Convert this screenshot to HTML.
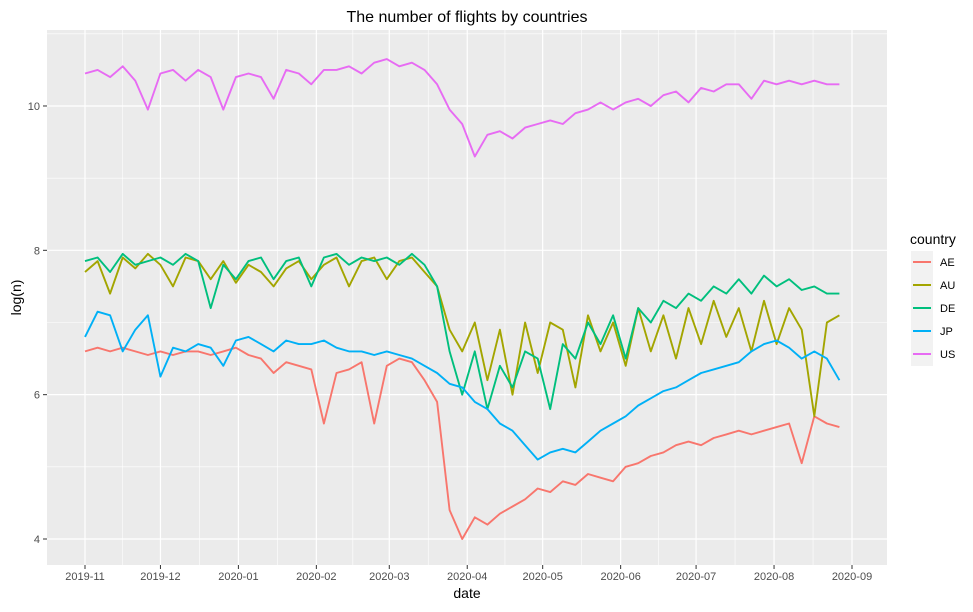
<!DOCTYPE html>
<html><head><meta charset="utf-8"><style>
body{margin:0;background:#fff;font-family:"Liberation Sans",Arial,sans-serif}
svg text{font-family:"Liberation Sans",Arial,sans-serif}
</style></head><body>
<svg id="c" width="973" height="607" xmlns="http://www.w3.org/2000/svg"></svg>
<script>
const countries=["AE","AU","DE","JP","US"];
const colors=["#F8766D","#A3A500","#00BF7D","#00B0F6","#E76BF3"];
const stepDays=5;
const valsAE=[6.6,6.65,6.6,6.65,6.6,6.55,6.6,6.55,6.6,6.6,6.55,6.6,6.65,6.55,6.5,6.3,6.45,6.4,6.35,5.6,6.3,6.35,6.45,5.6,6.4,6.5,6.45,6.2,5.9,4.4,4.0,4.3,4.2,4.35,4.45,4.55,4.7,4.65,4.8,4.75,4.9,4.85,4.8,5.0,5.05,5.15,5.2,5.3,5.35,5.3,5.4,5.45,5.5,5.45,5.5,5.55,5.6,5.05,5.7,5.6,5.55];
const valsAU=[7.7,7.85,7.4,7.9,7.75,7.95,7.8,7.5,7.9,7.85,7.6,7.85,7.55,7.8,7.7,7.5,7.75,7.85,7.6,7.8,7.9,7.5,7.85,7.9,7.6,7.85,7.9,7.7,7.5,6.9,6.6,7.0,6.2,6.9,6.0,7.0,6.3,7.0,6.9,6.1,7.1,6.6,7.0,6.4,7.2,6.6,7.1,6.5,7.2,6.7,7.3,6.8,7.2,6.6,7.3,6.7,7.2,6.9,5.7,7.0,7.1];
const valsDE=[7.85,7.9,7.7,7.95,7.8,7.85,7.9,7.8,7.95,7.85,7.2,7.8,7.6,7.85,7.9,7.6,7.85,7.9,7.5,7.9,7.95,7.8,7.9,7.85,7.9,7.8,7.95,7.8,7.5,6.6,6.0,6.6,5.8,6.4,6.1,6.6,6.5,5.8,6.7,6.5,7.0,6.7,7.1,6.5,7.2,7.0,7.3,7.2,7.4,7.3,7.5,7.4,7.6,7.4,7.65,7.5,7.6,7.45,7.5,7.4,7.4];
const valsJP=[6.8,7.15,7.1,6.6,6.9,7.1,6.25,6.65,6.6,6.7,6.65,6.4,6.75,6.8,6.7,6.6,6.75,6.7,6.7,6.75,6.65,6.6,6.6,6.55,6.6,6.55,6.5,6.4,6.3,6.15,6.1,5.9,5.8,5.6,5.5,5.3,5.1,5.2,5.25,5.2,5.35,5.5,5.6,5.7,5.85,5.95,6.05,6.1,6.2,6.3,6.35,6.4,6.45,6.6,6.7,6.75,6.65,6.5,6.6,6.5,6.2];
const valsUS=[10.45,10.5,10.4,10.55,10.35,9.95,10.45,10.5,10.35,10.5,10.4,9.95,10.4,10.45,10.4,10.1,10.5,10.45,10.3,10.5,10.5,10.55,10.45,10.6,10.65,10.55,10.6,10.5,10.3,9.95,9.75,9.3,9.6,9.65,9.55,9.7,9.75,9.8,9.75,9.9,9.95,10.05,9.95,10.05,10.1,10.0,10.15,10.2,10.05,10.25,10.2,10.3,10.3,10.1,10.35,10.3,10.35,10.3,10.35,10.3,10.3];
const xTickLabels=["2019-11","2019-12","2020-01","2020-02","2020-03","2020-04","2020-05","2020-06","2020-07","2020-08","2020-09"];
const xTickDays=[0,30,61,92,121,152,182,213,243,274,305];
const yTicks=[4,6,8,10];
const yMinor=[5,7,9,11];

const P={l:47,r:887,t:30,b:565};
const X=d=>85+d*(767/305);
const Y=v=>539-(v-4)*72.17;
const NS="http://www.w3.org/2000/svg";
const svg=document.getElementById('c');
function mk(t,a,p){const e=document.createElementNS(NS,t);for(const k in a)e.setAttribute(k,a[k]);(p||svg).appendChild(e);return e;}

const bg=mk('rect',{x:P.l,y:P.t,width:P.r-P.l,height:P.b-P.t,fill:'#EBEBEB'});


yMinor.forEach(v=>{const l=mk('line',{x1:P.l,x2:P.r,y1:Y(v),y2:Y(v),stroke:'#fff','stroke-width':0.6});

});
for(let i=0;i<xTickDays.length-1;i++){const m=(xTickDays[i]+xTickDays[i+1])/2;const l=mk('line',{x1:X(m),x2:X(m),y1:P.t,y2:P.b,stroke:'#fff','stroke-width':0.6});

}
yTicks.forEach(v=>{const l=mk('line',{x1:P.l,x2:P.r,y1:Y(v),y2:Y(v),stroke:'#fff','stroke-width':1.2});


const tk=mk('line',{x1:P.l-4,x2:P.l,y1:Y(v),y2:Y(v),stroke:'#333','stroke-width':1});


const t=mk('text',{x:P.l-7,y:Y(v)+4,'text-anchor':'end','font-size':11,fill:'#4D4D4D'});t.textContent=v;

});
xTickDays.forEach((d,i)=>{const l=mk('line',{x1:X(d),x2:X(d),y1:P.t,y2:P.b,stroke:'#fff','stroke-width':1.2});


const tk=mk('line',{x1:X(d),x2:X(d),y1:P.b,y2:P.b+4,stroke:'#333','stroke-width':1});


const t=mk('text',{x:X(d),y:P.b+15,'text-anchor':'middle','font-size':11,fill:'#4D4D4D'});t.textContent=xTickLabels[i];

});

const series=[valsAE,valsAU,valsDE,valsJP,valsUS];
series.forEach((vals,si)=>{const pts=vals.map((v,i)=>X(i*stepDays).toFixed(1)+','+Y(v).toFixed(1)).join(' ');
const pl=mk('polyline',{points:pts,fill:'none',stroke:colors[si],'stroke-width':1.9,'stroke-linejoin':'round'});

});

const title=mk('text',{x:(P.l+P.r)/2,y:22,'text-anchor':'middle','font-size':16,fill:'#000'});title.textContent='The number of flights by countries';


const xt=mk('text',{x:(P.l+P.r)/2,y:598,'text-anchor':'middle','font-size':14,fill:'#000'});xt.textContent='date';


const yt=mk('text',{x:0,y:0,'text-anchor':'middle','font-size':14,fill:'#000',transform:`translate(21,${(P.t+P.b)/2}) rotate(-90)`});yt.textContent='log(n)';



const lt=mk('text',{x:910,y:244,'font-size':14,fill:'#000'});lt.textContent='country';


const kb=mk('rect',{x:911,y:251,width:22,height:115,fill:'#F2F2F2'});


countries.forEach((c,i)=>{const y=262+i*23;
const g=mk('g',{});


mk('line',{x1:913,x2:931,y1:y,y2:y,stroke:colors[i],'stroke-width':1.9},g);
const t=mk('text',{x:940,y:y+4,'font-size':11,fill:'#000'},g);t.textContent=c;});
</script>
</body></html>
